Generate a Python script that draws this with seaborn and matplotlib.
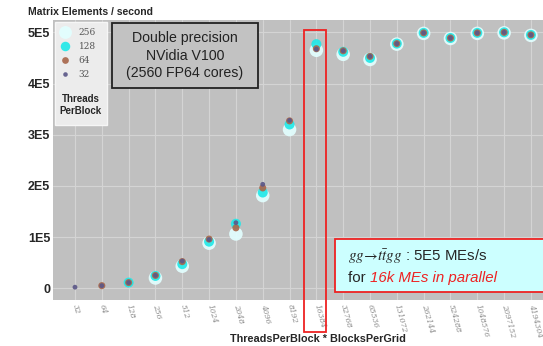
import numpy as np
import pandas as pd
import matplotlib
matplotlib.use('Agg')
import matplotlib.pyplot as plt
import matplotlib.transforms as mtransforms
from matplotlib.patches import Rectangle
from matplotlib.lines import Line2D
from matplotlib.text import Annotation
from matplotlib.ticker import NullLocator
import seaborn as sns

# ThreadsPerBlock * BlocksPerGrid
totals = [32, 64, 128, 256, 512, 1024, 2048, 4096, 8192, 16384, 32768,
          65536, 131072, 262144, 524288, 1048576, 2097152, 4194304]

# Matrix elements / second, in units of 1E5 (nan = not run)
nan = np.nan
me_32 = [0.02, 0.05, 0.11, 0.25, 0.53, 0.95, 1.28, 2.03, 3.28, 4.67, 4.64,
         4.53, 4.78, 4.99, 4.89, 4.99, 5.00, 4.95]
me_64 = [nan, 0.05, 0.11, 0.25, 0.52, 0.96, 1.18, 1.96, 3.27, 4.68, 4.64,
         4.53, 4.78, 4.99, 4.89, 4.99, 5.00, 4.95]
me_128 = [nan, nan, 0.11, 0.24, 0.47, 0.91, 1.26, 1.87, 3.20, 4.77, 4.62,
          4.50, 4.78, 4.99, 4.89, 4.99, 5.00, 4.95]
me_256 = [nan, nan, nan, 0.20, 0.43, 0.88, 1.06, 1.81, 3.10, 4.65, 4.57,
          4.47, 4.77, 4.98, 4.88, 4.98, 4.99, 4.94]

y_ticks = [0, 1, 2, 3, 4, 5]
y_labels = ['0', '1E5', '2E5', '3E5', '4E5', '5E5']

sns.set_style('darkgrid', {'axes.facecolor': '#c0c0c0', 'grid.color': '#d4d4d4'})
plt.rcParams['font.family'] = ['Liberation Sans', 'DejaVu Sans']
plt.rcParams['mathtext.fontset'] = 'stix'

fig = plt.figure(figsize=(5.43, 3.46), dpi=100)
ax = fig.add_axes([0.0976, 0.133, 0.9024, 0.809])

# draw biggest markers first so the small ones sit on top
series = [('256', me_256, '#e2ffff', 95),
          ('128', me_128, '#22e8e8', 52),
          ('64', me_64, '#a8684c', 26),
          ('32', me_32, '#5c5888', 12)]
for name, vals, col, s in series:
    df = pd.DataFrame({'total': totals, 'me': np.array(vals) * 1e5}).dropna()
    sns.scatterplot(data=df, x='total', y='me', color=col, s=s,
                    edgecolor='none', alpha=0.92, ax=ax, legend=False)

ax.set_xscale('log', base=2)
ax.set_xlim(totals[0] / 2 ** 0.82, totals[-1] * 2 ** 0.45)
ax.set_ylim(-0.23e5, 5.24e5)
ax.set_xticks(totals)
ax.xaxis.set_minor_locator(NullLocator())
ax.set_xticklabels([str(t) for t in totals])
plt.setp(ax.get_xticklabels(), rotation=-75, ha='left', va='center',
         rotation_mode='anchor', fontsize=5.5, color='#8a8a8a',
         family='DejaVu Serif', style='italic')
ax.set_yticks([v * 1e5 for v in y_ticks])
ax.set_yticklabels(y_labels, fontsize=9, fontweight='bold')
ax.tick_params(axis='both', length=0)
ax.tick_params(axis='y', pad=2)
ax.tick_params(axis='x', pad=3)
ax.set_xlabel('')
ax.set_ylabel('')
for sp in ax.spines.values():
    sp.set_visible(False)

fig.text(0.052, 0.965, 'Matrix Elements / second', fontsize=7.5,
         fontweight='bold', ha='left', va='center')
fig.text(0.586, 0.02, 'ThreadsPerBlock * BlocksPerGrid', fontsize=7.8,
         fontweight='bold', ha='center', va='center')

# legend
ax.add_patch(Rectangle((0.004, 0.625), 0.106, 0.368, transform=ax.transAxes,
                       facecolor='#ececec', edgecolor='#f6f6f6', lw=1, zorder=4))
handles = [Line2D([], [], marker='o', ls='', color=col, alpha=0.92,
                  markeredgecolor='none', markersize=np.sqrt(s) * 0.95)
           for name, vals, col, s in series]
leg = ax.legend(handles, [name for name, *_ in series], loc='upper left',
                bbox_to_anchor=(0.006, 0.985), frameon=False,
                prop={'family': 'DejaVu Serif', 'size': 6.5},
                labelcolor='#555555', handletextpad=0.9, labelspacing=0.55,
                handlelength=1.2, borderaxespad=0)
leg.set_zorder(5)
ax.text(0.057, 0.695, 'Threads\nPerBlock', transform=ax.transAxes,
        fontsize=7, fontweight='bold', ha='center', va='center',
        linespacing=1.25, zorder=6)

# device box
ax.add_patch(Rectangle((0.120, 0.757), 0.298, 0.232, transform=ax.transAxes,
                       facecolor='#c2c2c2', edgecolor='#222222', lw=1.3, zorder=4))
ax.text(0.269, 0.873, 'Double precision\nNVidia V100\n(2560 FP64 cores)',
        transform=ax.transAxes, fontsize=10.2, ha='center', va='center',
        linespacing=1.3, color='#222222', zorder=5)

# highlight 16384
trans = mtransforms.blended_transform_factory(ax.transData, ax.transAxes)
ax.add_patch(Rectangle((16384 * 2 ** -0.45, -0.114),
                       16384 * 2 ** 0.36 - 16384 * 2 ** -0.45, 1.078,
                       transform=trans, fill=False, edgecolor='#ee2222',
                       lw=1.3, clip_on=False, zorder=6))

# throughput box
fig.patches.append(Rectangle((0.617, 0.156), 0.40, 0.153,
                             transform=fig.transFigure, facecolor='#ccffff',
                             edgecolor='#ee2222', lw=1.3, zorder=5))
fig.text(0.641, 0.257, r'$gg\!\rightarrow\! t\bar{t}gg$ : 5E5 MEs/s',
         fontsize=10.8, ha='left', va='center', zorder=6)
t_for = fig.text(0.641, 0.197, 'for ', fontsize=10.8, ha='left',
                 va='center', zorder=6)
red_txt = Annotation('16k MEs in parallel', xy=(1, 0), xycoords=t_for,
                     ha='left', va='bottom', fontsize=10.8, color='#ee2222',
                     style='italic', annotation_clip=False)
red_txt.set_zorder(7)
fig.add_artist(red_txt)

fig.savefig('out.png', dpi=100)
